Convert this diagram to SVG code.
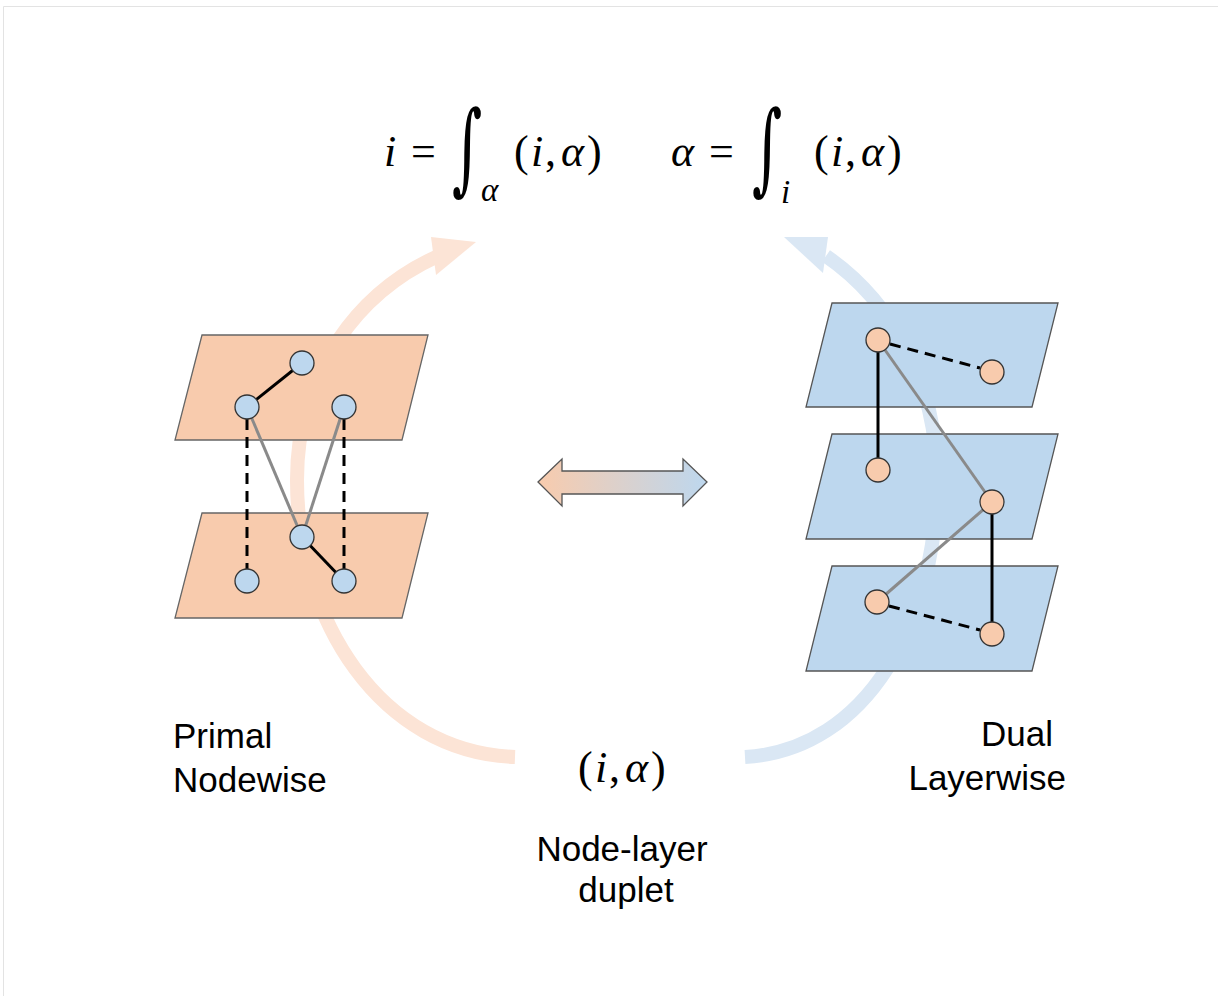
<svg xmlns="http://www.w3.org/2000/svg" width="1218" height="996" viewBox="0 0 1218 996">
<defs>
<linearGradient id="dbl" x1="538" y1="0" x2="707" y2="0" gradientUnits="userSpaceOnUse">
<stop offset="0" stop-color="#f8cbad"/>
<stop offset="1" stop-color="#bdd7ee"/>
</linearGradient>
<style>
.frame{fill:none;stroke:#e3e3e3;stroke-width:1}
.arcL{fill:none;stroke:#fce4d6;stroke-width:14}
.arcR{fill:none;stroke:#dae7f4;stroke-width:14}
.plO{fill:#f8cbad;stroke:#666;stroke-width:1.3}
.plB{fill:#bdd7ee;stroke:#555;stroke-width:1.3}
.nB{fill:#bdd7ee;stroke:#333;stroke-width:1.3}
.nO{fill:#f8cbad;stroke:#333;stroke-width:1.3}
.eK{stroke:#000;stroke-width:3;fill:none}
.eG{stroke:#8a8a8a;stroke-width:3;fill:none}
.eD{stroke:#000;stroke-width:3;stroke-dasharray:11 7;fill:none}
.lbl{font-family:"Liberation Sans",Arial,sans-serif;font-size:35px;fill:#000}
.m{font-family:"Liberation Serif","DejaVu Serif",serif;font-size:44px;fill:#000}
.mi{font-family:"Liberation Serif","DejaVu Serif",serif;font-size:44px;font-style:italic;fill:#000}
.int{font-family:"DejaVu Serif",serif;font-size:100px;fill:#000}
.sub{font-family:"Liberation Serif","DejaVu Serif",serif;font-size:33px;font-style:italic;fill:#000}
</style>
</defs>
<rect width="1218" height="996" fill="#fff"/>
<path class="frame" d="M3.5,996 V6.5 H1218"/>

<g id="cycle-arcs">
<path class="arcL" d="M515,757 C380,752 297,620 297,480 C297,370 360,292 436,257"/>
<polygon points="476,242 431,237 436,275" fill="#fce4d6"/>
<path class="arcR" d="M745,757 C868,750 937,620 937,480 C937,380 890,300 826,256"/>
<polygon points="784,237 828,237 823,273" fill="#dae7f4"/>
</g>

<g id="primal-planes">
<polygon id="plane-p1" class="plO" points="202,335 428,335 402,440 175,440"/>
<polygon id="plane-p2" class="plO" points="202,513 428,513 402,618 175,618"/>
</g>
<g id="dual-planes">
<polygon id="plane-d1" class="plB" points="832,303 1058,303 1032,407 806,407"/>
<polygon id="plane-d2" class="plB" points="832,434 1058,434 1032,539 806,539"/>
<polygon id="plane-d3" class="plB" points="832,566 1058,566 1032,671 806,671"/>
</g>

<g id="connectors">
<line class="eK" x1="247" y1="407" x2="302" y2="363"/>
<line class="eK" x1="302" y1="537" x2="344" y2="581"/>
<line class="eG" x1="247" y1="407" x2="302" y2="537"/>
<line class="eG" x1="344" y1="407" x2="302" y2="537"/>
<line class="eD" x1="247" y1="419" x2="247" y2="569"/>
<line class="eD" x1="344" y1="419" x2="344" y2="569"/>
<line class="eD" x1="890" y1="344" x2="980" y2="368"/>
<line class="eK" x1="878" y1="340" x2="878" y2="470"/>
<line class="eG" x1="878" y1="340" x2="992" y2="502"/>
<line class="eG" x1="992" y1="502" x2="877" y2="602"/>
<line class="eK" x1="992" y1="502" x2="992" y2="634"/>
<line class="eD" x1="889" y1="606" x2="980" y2="630"/>
<polygon id="double-arrow" points="538,482 562,459 562,471 683,471 683,459 707,482 683,506 683,494 562,494 562,506" fill="url(#dbl)" stroke="#555" stroke-width="1.3"/>
</g>

<g id="primal-nodes">
<circle id="p-a" class="nB" cx="302" cy="363" r="12"/>
<circle id="p-b" class="nB" cx="247" cy="407" r="12"/>
<circle id="p-c" class="nB" cx="344" cy="407" r="12"/>
<circle id="p-d" class="nB" cx="302" cy="537" r="12"/>
<circle id="p-e" class="nB" cx="247" cy="581" r="12"/>
<circle id="p-f" class="nB" cx="344" cy="581" r="12"/>
</g>
<g id="dual-nodes">
<circle id="d-a" class="nO" cx="878" cy="340" r="12"/>
<circle id="d-b" class="nO" cx="992" cy="372" r="12"/>
<circle id="d-c" class="nO" cx="878" cy="470" r="12"/>
<circle id="d-d" class="nO" cx="992" cy="502" r="12"/>
<circle id="d-e" class="nO" cx="877" cy="602" r="12"/>
<circle id="d-f" class="nO" cx="992" cy="634" r="12"/>
</g>

<g id="formula-1">
<text class="mi" x="384" y="166">i</text>
<text class="m" x="411" y="166">=</text>
<text class="int" transform="translate(452,182) scale(0.58,1)" x="0" y="0">∫</text>
<text class="sub" x="481" y="201">α</text>
<text class="m" x="514" y="166">(</text>
<text class="mi" x="531" y="166">i</text>
<text class="m" x="545" y="166">,</text>
<text class="mi" x="561" y="166">α</text>
<text class="m" x="587" y="166">)</text>
</g>
<g id="formula-2">
<text class="mi" x="671" y="166">α</text>
<text class="m" x="709" y="166">=</text>
<text class="int" transform="translate(752,182) scale(0.58,1)" x="0" y="0">∫</text>
<text class="sub" x="781" y="203">i</text>
<text class="m" x="814" y="166">(</text>
<text class="mi" x="831" y="166">i</text>
<text class="m" x="845" y="166">,</text>
<text class="mi" x="861" y="166">α</text>
<text class="m" x="887" y="166">)</text>
</g>

<g id="label-primal">
<text class="lbl" x="173" y="748">Primal</text>
<text class="lbl" x="173" y="792">Nodewise</text>
</g>
<g id="label-dual">
<text class="lbl" x="1053" y="746" text-anchor="end">Dual</text>
<text class="lbl" x="1066" y="790" text-anchor="end">Layerwise</text>
</g>
<g id="label-duplet">
<text class="m" x="578" y="782">(</text>
<text class="mi" x="595" y="782">i</text>
<text class="m" x="609" y="782">,</text>
<text class="mi" x="625" y="782">α</text>
<text class="m" x="651" y="782">)</text>
<text class="lbl" x="622" y="861" text-anchor="middle">Node-layer</text>
<text class="lbl" x="626" y="902" text-anchor="middle">duplet</text>
</g>
</svg>
